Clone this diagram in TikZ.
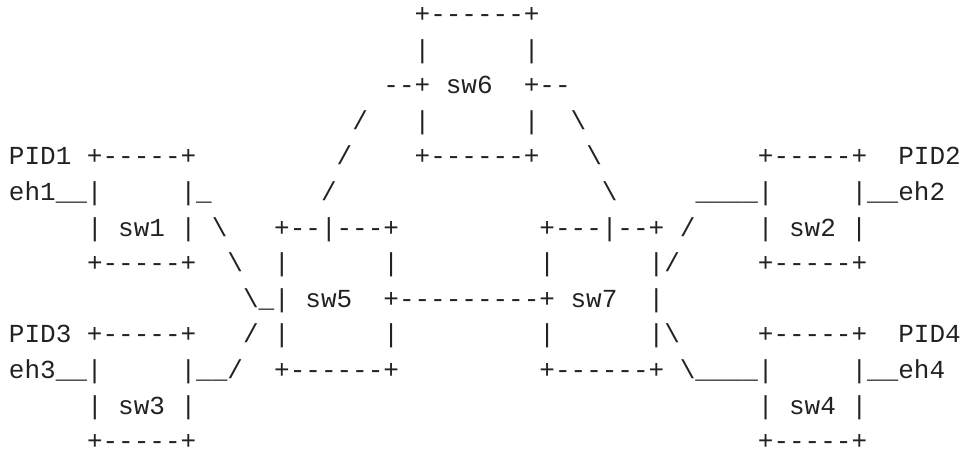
\documentclass[tikz,border=0pt]{standalone}
\usepackage{fontspec}
\setmonofont{Liberation Mono}
\definecolor{ink}{RGB}{34,34,34}
% shorthand for the two awkward characters of the drawing
\newcommand{\bs}{\textbackslash}
\newcommand{\us}{\_}
\begin{document}
\begin{tikzpicture}[x=1pt,y=1pt,
  asciiline/.style={anchor=base west,inner sep=0pt,outer sep=0pt,
    text height=19pt,text depth=0pt,
    font=\ttfamily\fontsize{26}{26}\selectfont,text=ink}]
\useasboundingbox (0,0) rectangle (966,450);
% one node per text row; rows are 35.6pt apart, first baseline 22.5pt from the top
\foreach \r/\txt in {
 0/{~~~~~~~~~~~~~~~~~~~~~~~~~~+------+},
 1/{~~~~~~~~~~~~~~~~~~~~~~~~~~|~~~~~~|},
 2/{~~~~~~~~~~~~~~~~~~~~~~~~--+~sw6~~+--},
 3/{~~~~~~~~~~~~~~~~~~~~~~/~~~|~~~~~~|~~\bs},
 4/{PID1~+-----+~~~~~~~~~/~~~~+------+~~~\bs~~~~~~~~~~+-----+~~PID2},
 5/{eh1\us\us|~~~~~|\us~~~~~~~/~~~~~~~~~~~~~~~~~\bs~~~~~\us\us\us\us|~~~~~|\us\us eh2},
 6/{~~~~~|~sw1~|~\bs~~~+--|---+~~~~~~~~~+---|--+~/~~~~|~sw2~|},
 7/{~~~~~+-----+~~\bs~~|~~~~~~|~~~~~~~~~|~~~~~~|/~~~~~+-----+},
 8/{~~~~~~~~~~~~~~~\bs\us|~sw5~~+---------+~sw7~~|},
 9/{PID3~+-----+~~~/~|~~~~~~|~~~~~~~~~|~~~~~~|\bs~~~~~+-----+~~PID4},
 10/{eh3\us\us|~~~~~|\us\us/~~+------+~~~~~~~~~+------+~\bs\us\us\us\us|~~~~~|\us\us eh4},
 11/{~~~~~|~sw3~|~~~~~~~~~~~~~~~~~~~~~~~~~~~~~~~~~~~~|~sw4~|},
 12/{~~~~~+-----+~~~~~~~~~~~~~~~~~~~~~~~~~~~~~~~~~~~~+-----+}}
 \node[asciiline] (row\r) at (9,{450-22.5-35.6*\r}) {\txt};
\end{tikzpicture}
\end{document}
